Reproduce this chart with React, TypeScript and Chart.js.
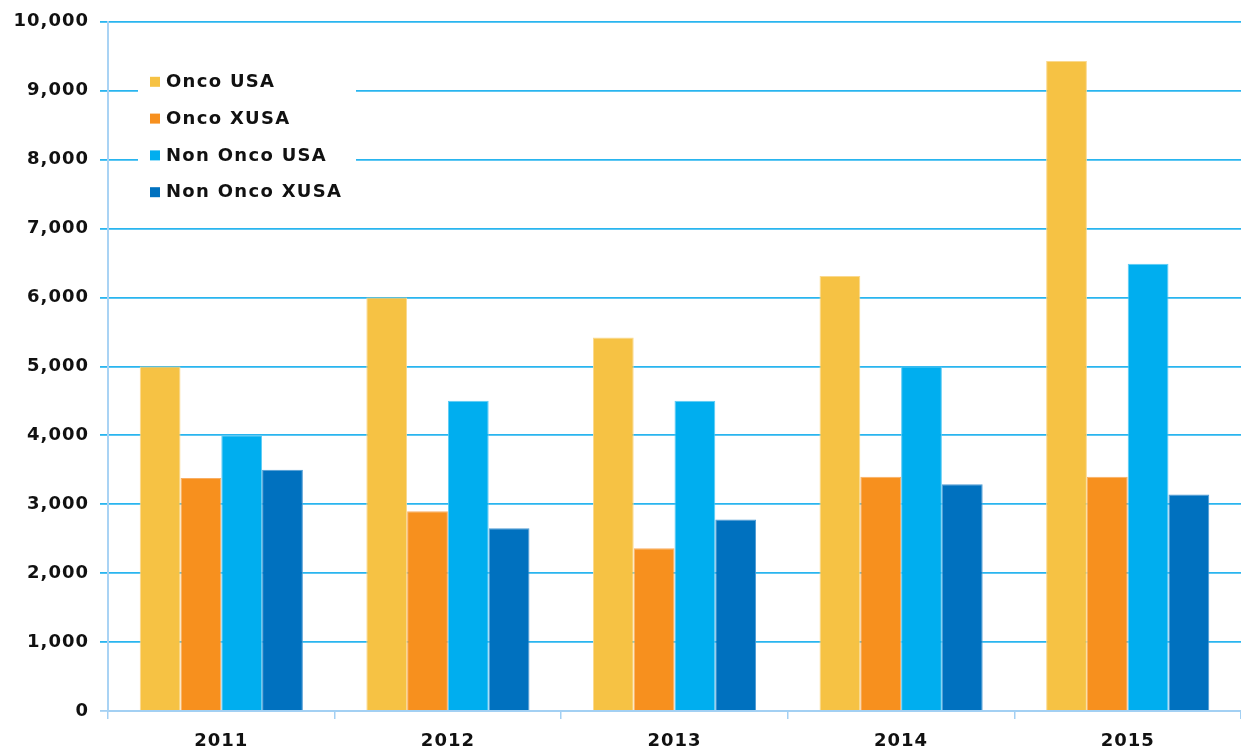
import React, { useEffect, useRef } from "react";
import { Chart, registerables } from "chart.js";

Chart.register(...registerables);

const categories = ["2011", "2012", "2013", "2014", "2015"];
const seriesNames = ["Onco USA", "Onco XUSA", "Non Onco USA", "Non Onco XUSA"];
const oncoUSA = [5000, 6000, 5420, 6310, 9430];
const oncoXUSA = [3380, 2900, 2360, 3400, 3400];
const nonOncoUSA = [4000, 4500, 4500, 5000, 6490];
const nonOncoXUSA = [3500, 2650, 2780, 3290, 3140];
const colors = ["#F6C244", "#F7901E", "#00AEEF", "#0071BF"];
const borderColors = ["#FAD98E", "#F9AE63", "#5CCBF4", "#4D9AD3"];
const yMax = 10000;
const yStep = 1000;

const FONT = '"DejaVu Sans", Verdana, sans-serif';

const spacingPlugin = {
  id: "spacing",
  beforeInit(chart: any) {
    chart.ctx.letterSpacing = "1px";
  },
  beforeLayout(chart: any) {
    chart.ctx.letterSpacing = "1px";
  },
  beforeDraw(chart: any) {
    chart.ctx.letterSpacing = "1px";
  },
};

const legendPlugin = {
  id: "customLegend",
  beforeDatasetsDraw(chart: any) {
    const ctx = chart.ctx;
    const area = chart.chartArea;
    ctx.save();
    ctx.fillStyle = "#ffffff";
    ctx.fillRect(area.left + 30, area.top + 40, 218, 160);
    ctx.restore();
  },
  afterDraw(chart: any) {
    const ctx = chart.ctx;
    const area = chart.chartArea;
    const x0 = area.left + 42;
    const y0 = area.top + 60.5;
    const gap = 36.8;
    ctx.save();
    ctx.letterSpacing = "1.3px";
    ctx.font = `bold 18px ${FONT}`;
    ctx.textBaseline = "middle";
    ctx.textAlign = "left";
    chart.data.datasets.forEach((ds: any, i: number) => {
      const y = y0 + i * gap;
      ctx.fillStyle = ds.backgroundColor;
      ctx.fillRect(x0, y - 5.5, 10, 10);
      ctx.fillStyle = "#111111";
      ctx.fillText(ds.label, x0 + 16, y);
    });
    ctx.restore();
  },
};

export default function App() {
  const canvasRef = useRef<HTMLCanvasElement | null>(null);

  useEffect(() => {
    document.body.style.margin = "0";
    const canvas = canvasRef.current;
    if (!canvas) return;
    const seriesValues = [oncoUSA, oncoXUSA, nonOncoUSA, nonOncoXUSA];
    const chart = new Chart(canvas, {
      type: "bar",
      data: {
        labels: categories,
        datasets: seriesNames.map((name, i) => ({
          label: name,
          data: seriesValues[i],
          backgroundColor: colors[i],
          borderColor: borderColors[i],
          borderWidth: 1,
          categoryPercentage: 0.72,
          barPercentage: 1,
        })),
      },
      options: {
        animation: false,
        responsive: false,
        maintainAspectRatio: false,
        layout: { padding: { top: 20, left: 0, right: 0, bottom: 0 } },
        plugins: {
          legend: { display: false },
          tooltip: { enabled: false },
        },
        scales: {
          x: {
            offset: true,
            grid: {
              offset: true,
              drawOnChartArea: false,
              drawTicks: true,
              tickLength: 8,
              color: "#A3D0F3",
              lineWidth: 1.5,
            },
            border: { display: true, color: "#A3D0F3", width: 2 },
            ticks: {
              padding: 12,
              color: "#111111",
              font: { family: FONT, size: 18, weight: "bold" },
            },
            afterFit(scale: any) {
              scale.height = 35;
            },
          },
          y: {
            min: 0,
            max: yMax,
            ticks: {
              stepSize: yStep,
              padding: 11,
              color: "#111111",
              font: { family: FONT, size: 18, weight: "bold" },
              callback: (v: any) => Number(v).toLocaleString("en-US"),
            },
            grid: {
              color: (c: any) => (c.tick && c.tick.value === 0 ? "#A3D0F3" : "#29B5EF"),
              lineWidth: 1.8,
              tickLength: 8,
              drawTicks: true,
            },
            border: { display: true, color: "#A9D3F4", width: 2 },
            afterFit(scale: any) {
              scale.width = 108;
            },
          },
        },
      },
      plugins: [spacingPlugin, legendPlugin],
    } as any);
    return () => chart.destroy();
  }, []);

  return (
    <div style={{ position: "absolute", left: 0, top: 0, width: 1241, height: 746, background: "#fff" }}>
      <canvas ref={canvasRef} width={1241} height={746} style={{ width: 1241, height: 746, display: "block" }} />
    </div>
  );
}
